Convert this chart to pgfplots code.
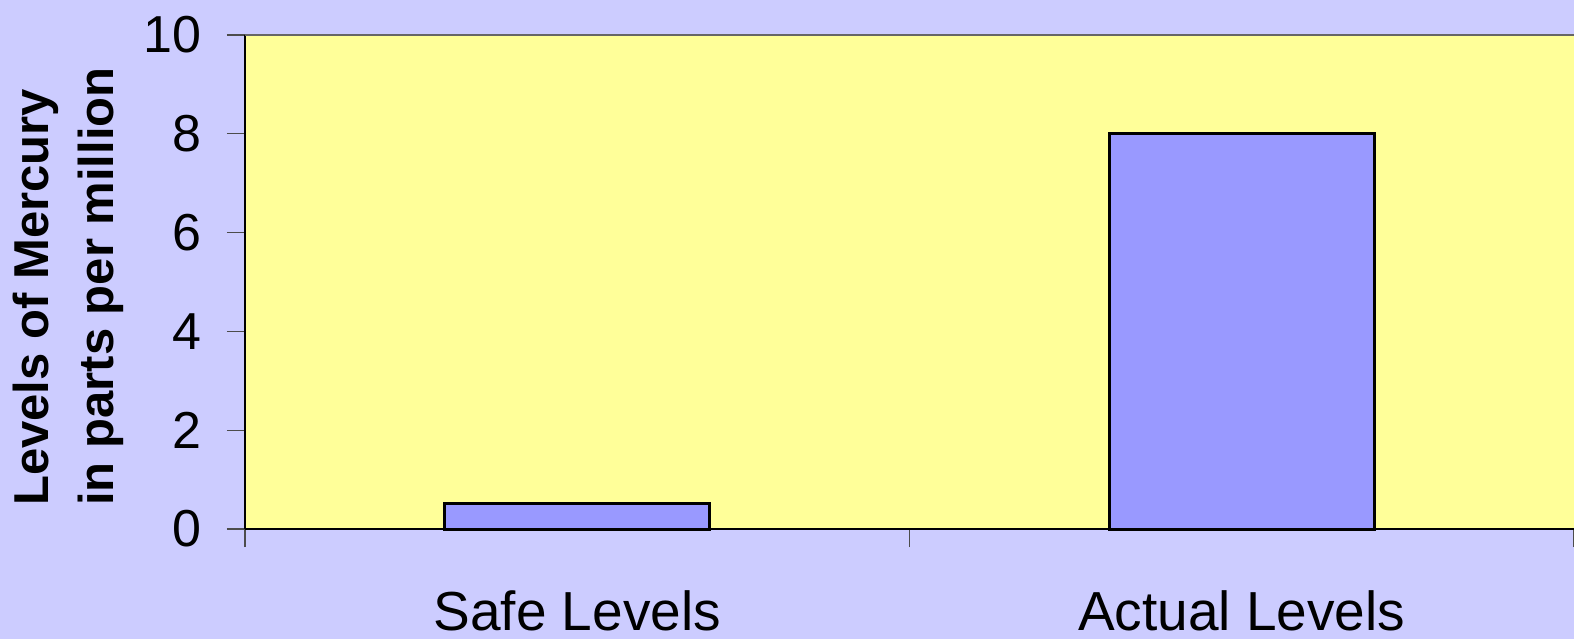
\documentclass[border=0pt]{standalone}
\usepackage{fontspec}
\setmainfont{Liberation Sans}
\usepackage{pgfplots}
\pgfplotsset{compat=1.18}

\definecolor{bgcol}{HTML}{CCCCFF}
\definecolor{plotcol}{HTML}{FFFF99}
\definecolor{barcol}{HTML}{9999FF}

\begin{document}
\begin{tikzpicture}
\fill[bgcol] (-122.5pt,-55pt) rectangle (664.5pt,264.5pt);
\useasboundingbox (-122.5pt,-55pt) rectangle (664.5pt,264.5pt);
\begin{axis}[
    at={(0,0)}, anchor=south west,
    scale only axis,
    width=664.5pt, height=247pt,
    xmin=0, xmax=2, ymin=0, ymax=10,
    axis lines*=left,
    axis line style={black, line width=0.6pt},
    axis background/.style={fill=plotcol},
    xtick={0,1,2}, xticklabels={},
    ytick={0,2,4,6,8,10},
    tick align=outside,
    major tick length=9pt,
    tick style={black!70, line width=0.6pt},
    extra x ticks={0.5,1.5},
    extra x tick labels={Safe Levels, Actual Levels},
    extra x tick style={major tick length=0pt, ticklabel style={font=\fontsize{27.5}{30}\selectfont, yshift=-27.5pt}},
    yticklabel style={font=\fontsize{26}{30}\selectfont, xshift=-9.5pt},
    /pgf/number format/assume math mode=true,
    ylabel={Levels of Mercury\\in parts per million},
    ylabel style={at={(axis description cs:-0.1332,0.4909)}, anchor=center, rotate=0,
        align=left, font=\fontsize{24.5}{32.5}\selectfont\bfseries},
    ybar, bar width=132.5pt,
    clip=false,
]
\addplot[fill=barcol, draw=black, line width=1.5pt] coordinates {(0.5,0.52) (1.5,8)};
\draw[black!60, line width=0.6pt] (rel axis cs:0,1) -- (rel axis cs:1,1);
\end{axis}
\end{tikzpicture}
\end{document}
